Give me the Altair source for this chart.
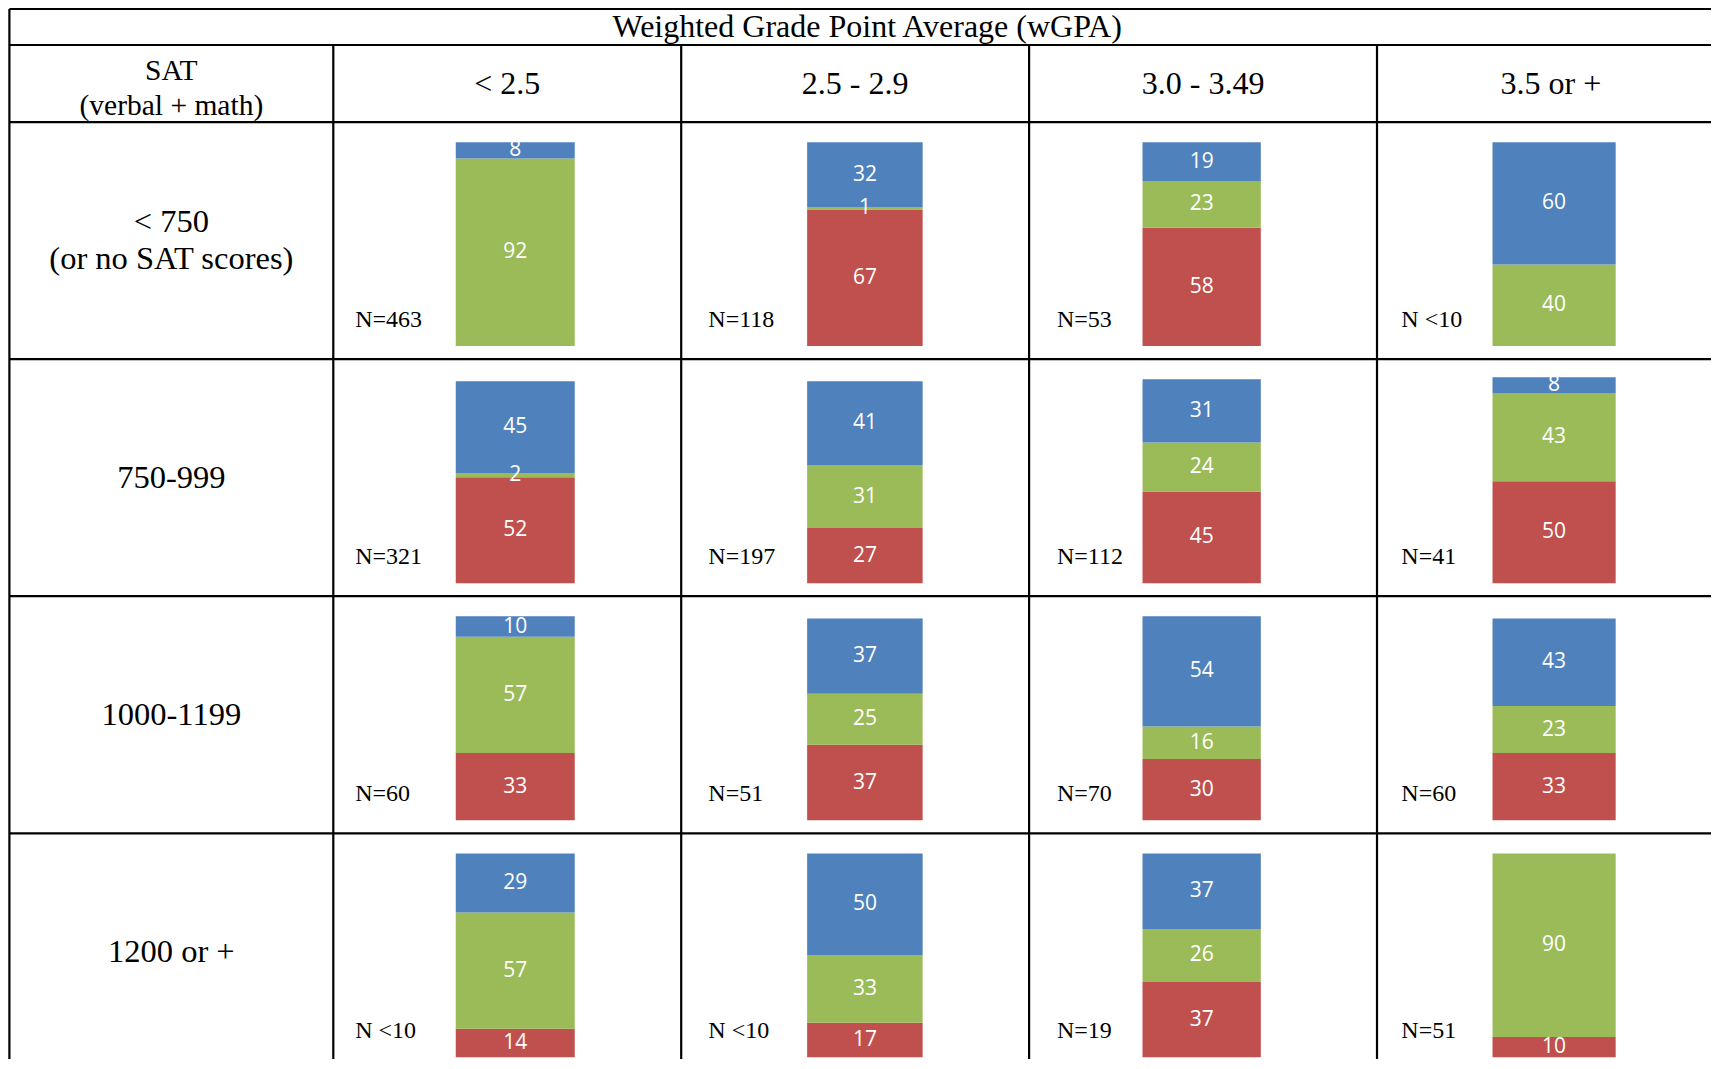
import altair as alt
import pandas as pd

# ---------------- data ----------------
title_text = "Weighted Grade Point Average (wGPA)"
corner_text = "SAT\n(verbal + math)"
gpa_labels = ["< 2.5", "2.5 - 2.9", "3.0 - 3.49", "3.5 or +"]
sat_labels = ["< 750\n(or no SAT scores)", "750-999", "1000-1199", "1200 or +"]

series_names = ["Series 1", "Series 2", "Series 3"]   # bottom (red), middle (green), top (blue)
series_colors = ["#C0504D", "#9BBB59", "#4F81BD"]

red_vals = [[0, 67, 58, 0],
            [52, 27, 45, 50],
            [33, 37, 30, 33],
            [14, 17, 37, 10]]
green_vals = [[92, 1, 23, 40],
              [2, 31, 24, 43],
              [57, 25, 16, 23],
              [57, 33, 26, 90]]
blue_vals = [[8, 32, 19, 60],
             [45, 41, 31, 8],
             [10, 37, 54, 43],
             [29, 50, 37, 0]]

n_labels = [["N=463", "N=118", "N=53", "N <10"],
            ["N=321", "N=197", "N=112", "N=41"],
            ["N=60", "N=51", "N=70", "N=60"],
            ["N <10", "N <10", "N=19", "N=51"]]

# ---------------- layout (scale units: 1 = one data cell) ----------------
COL_W = 348.0   # px per column unit
ROW_H = 237.0   # px per row unit
LABEL_W = 0.931
TITLE_H = 0.152
HEAD_H = 0.325
TOP = -(TITLE_H + HEAD_H)
X_MIN, X_MAX = -LABEL_W - 0.004, 3.96
Y_MIN, Y_MAX = TOP - 0.004, 3.952
W = int(round((X_MAX - X_MIN) * COL_W))
H = int(round((Y_MAX - Y_MIN) * ROW_H))

BAR_C = [0.523, 0.528, 0.496, 0.509]       # bar centre within each column
BAR_HALF = [0.171, 0.166, 0.17, 0.177]     # half bar width per column
BAR_BOTTOM = 0.945
BAR_SCALE = 0.0086   # units per percent
N_X = [0.063, 0.078, 0.08, 0.07]
N_Y = 0.835
LINE_H = 37.0

xs = alt.Scale(domain=[X_MIN, X_MAX], nice=False, zero=False)
ys = alt.Scale(domain=[Y_MIN, Y_MAX], nice=False, zero=False, reverse=True)


def X(f):
    return alt.X(f, type="quantitative", scale=xs, axis=None)


def Y(f):
    return alt.Y(f, type="quantitative", scale=ys, axis=None)


# ---------------- tables ----------------
rows = []
for r in range(len(sat_labels)):
    for c in range(len(gpa_labels)):
        for k, vals in enumerate([red_vals, green_vals, blue_vals]):
            rows.append({"r": r, "c": c, "series": series_names[k], "order": k,
                         "value": vals[r][c],
                         "bc": c + BAR_C[c], "bh": BAR_HALF[c]})
seg = pd.DataFrame(rows)

base = (
    alt.Chart(seg)
    .transform_filter("datum.value > 0")
    .transform_stack(stack="value", groupby=["r", "c"], as_=["v0", "v1"],
                     sort=[alt.SortField("order", order="ascending")])
    .transform_calculate(
        y0=f"datum.r + {BAR_BOTTOM} - datum.v0 * {BAR_SCALE}",
        y1=f"datum.r + {BAR_BOTTOM} - datum.v1 * {BAR_SCALE}",
        xa="datum.bc - datum.bh",
        xb="datum.bc + datum.bh",
        ym="(datum.y0 + datum.y1) / 2",
    )
)

bars = base.mark_rect().encode(
    x=X("xa"), x2="xb", y=Y("y0"), y2="y1",
    color=alt.Color("series:N", scale=alt.Scale(domain=series_names, range=series_colors), legend=None),
)
seg_text = base.mark_text(color="white", font="Open Sans", fontSize=21, baseline="middle", align="center").encode(
    x=X("bc"), y=Y("ym"), text="value:Q"
)

# N labels
nrows = [{"r": r, "c": c, "label": n_labels[r][c], "nx": c + N_X[c]}
         for r in range(len(sat_labels)) for c in range(len(gpa_labels))]
ndf = pd.DataFrame(nrows)
n_text = (
    alt.Chart(ndf)
    .transform_calculate(y=f"datum.r + {N_Y}")
    .mark_text(font="Liberation Serif", fontSize=24, align="left", baseline="middle", color="black")
    .encode(x=X("nx"), y=Y("y"), text="label:N")
)

# column headers
gdf = pd.DataFrame({"c": list(range(len(gpa_labels))), "label": gpa_labels})
col_head = (
    alt.Chart(gdf)
    .transform_calculate(x="datum.c + 0.5", y=f"{-HEAD_H / 2}")
    .mark_text(font="Liberation Serif", fontSize=32, align="center", baseline="middle", color="black")
    .encode(x=X("x"), y=Y("y"), text="label:N")
)

# row headers (multi-line text: first line anchored, block centred in the row)
sdf = pd.DataFrame({"r": list(range(len(sat_labels))), "label": sat_labels})
sdf["nl"] = [s.count("\n") for s in sat_labels]
row_head = (
    alt.Chart(sdf)
    .transform_calculate(x=f"{-LABEL_W / 2}",
                         y=f"datum.r + 0.5 - datum.nl * {LINE_H / 2 / ROW_H}")
    .mark_text(font="Liberation Serif", fontSize=32.5, align="center", baseline="middle",
               color="black", lineBreak="\n", lineHeight=LINE_H)
    .encode(x=X("x"), y=Y("y"), text="label:N")
)

# corner & title
cdf = pd.DataFrame({"label": [corner_text]})
corner = (
    alt.Chart(cdf)
    .transform_calculate(x=f"{-LABEL_W / 2}", y=f"{-HEAD_H + 0.11}")
    .mark_text(font="Liberation Serif", fontSize=29.5, align="center", baseline="middle",
               color="black", lineBreak="\n", lineHeight=35)
    .encode(x=X("x"), y=Y("y"), text="label:N")
)
tdf = pd.DataFrame({"label": [title_text]})
title = (
    alt.Chart(tdf)
    .transform_calculate(x=f"{(-LABEL_W + 4.0) / 2}", y=f"{TOP + TITLE_H / 2 + 0.002}")
    .mark_text(font="Liberation Serif", fontSize=32, align="center", baseline="middle", color="black")
    .encode(x=X("x"), y=Y("y"), text="label:N")
)

# grid lines
hl = pd.DataFrame({"y": [TOP, -HEAD_H] + [float(r) for r in range(len(sat_labels))]})
hlines = (
    alt.Chart(hl)
    .transform_calculate(xl=f"{-LABEL_W}", xr=f"{X_MAX}")
    .mark_rule(color="black", strokeWidth=2.2)
    .encode(x=X("xl"), x2="xr", y=Y("y"))
)
vl = pd.DataFrame({"x": [-LABEL_W] + [float(c) for c in range(len(gpa_labels))],
                   "ytop": [TOP] + [-HEAD_H] * len(gpa_labels)})
vlines = (
    alt.Chart(vl)
    .transform_calculate(yb=f"{Y_MAX}")
    .mark_rule(color="black", strokeWidth=2.2)
    .encode(x=X("x"), y=Y("ytop"), y2="yb")
)

chart = (
    alt.layer(bars, seg_text, n_text, col_head, row_head, corner, title, hlines, vlines)
    .properties(width=W, height=H, padding=0, background="white",
                autosize=alt.AutoSizeParams(type="none"))
    .configure_view(stroke=None)
)

chart.save("out.html", embed_options={"renderer": "svg", "actions": False})
